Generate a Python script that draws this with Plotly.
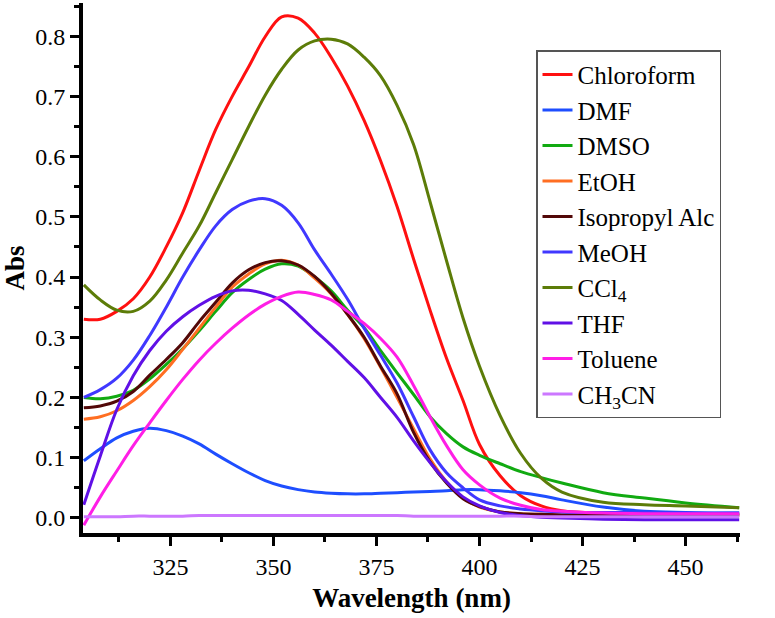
import plotly.graph_objects as go

wavelength = [304, 308, 312, 316, 320, 324, 328, 332, 336, 340, 344, 348, 352, 356, 360,
              364, 368, 372, 376, 380, 384, 388, 392, 396, 400, 405, 410, 415, 420, 430,
              440, 450, 463]

chloroform = [0.330, 0.330, 0.343, 0.364, 0.400, 0.450, 0.507, 0.577, 0.645, 0.700, 0.749,
              0.799, 0.832, 0.830, 0.805, 0.765, 0.717, 0.660, 0.593, 0.517, 0.430, 0.345,
              0.265, 0.195, 0.122, 0.070, 0.037, 0.020, 0.012, 0.008, 0.007, 0.006, 0.005]
dmf = [0.095, 0.115, 0.133, 0.144, 0.149, 0.145, 0.136, 0.123, 0.106, 0.090, 0.075, 0.062,
       0.053, 0.047, 0.043, 0.041, 0.040, 0.040, 0.041, 0.042, 0.043, 0.044, 0.045, 0.047,
       0.047, 0.045, 0.042, 0.037, 0.030, 0.018, 0.011, 0.009, 0.008]
dmso = [0.200, 0.198, 0.202, 0.212, 0.231, 0.255, 0.281, 0.311, 0.343, 0.374, 0.396, 0.413,
        0.422, 0.418, 0.400, 0.377, 0.345, 0.316, 0.278, 0.241, 0.205, 0.168, 0.140, 0.118,
        0.104, 0.090, 0.077, 0.067, 0.058, 0.042, 0.033, 0.025, 0.017]
etoh = [0.164, 0.168, 0.178, 0.195, 0.218, 0.246, 0.280, 0.315, 0.350, 0.383, 0.405, 0.422,
        0.428, 0.420, 0.398, 0.372, 0.338, 0.298, 0.250, 0.200, 0.148, 0.098, 0.060, 0.033,
        0.018, 0.010, 0.007, 0.006, 0.005, 0.005, 0.005, 0.005, 0.005]
isopropyl = [0.183, 0.186, 0.194, 0.210, 0.237, 0.263, 0.291, 0.326, 0.358, 0.390, 0.412,
             0.424, 0.427, 0.420, 0.401, 0.373, 0.338, 0.300, 0.252, 0.206, 0.142, 0.093,
             0.058, 0.032, 0.019, 0.010, 0.007, 0.006, 0.005, 0.005, 0.005, 0.005, 0.005]
meoh = [0.200, 0.213, 0.232, 0.262, 0.303, 0.350, 0.400, 0.445, 0.485, 0.512, 0.526, 0.530,
        0.519, 0.490, 0.445, 0.405, 0.363, 0.315, 0.270, 0.224, 0.168, 0.113, 0.075, 0.050,
        0.030, 0.020, 0.015, 0.012, 0.010, 0.009, 0.009, 0.008, 0.008]
ccl4 = [0.387, 0.362, 0.345, 0.343, 0.360, 0.395, 0.440, 0.485, 0.540, 0.595, 0.650, 0.702,
        0.745, 0.777, 0.792, 0.795, 0.787, 0.765, 0.734, 0.685, 0.620, 0.525, 0.427, 0.332,
        0.252, 0.170, 0.107, 0.066, 0.043, 0.026, 0.022, 0.020, 0.017]
thf = [0.022, 0.103, 0.180, 0.236, 0.278, 0.310, 0.334, 0.353, 0.368, 0.377, 0.378, 0.372,
       0.361, 0.338, 0.312, 0.287, 0.260, 0.233, 0.200, 0.167, 0.128, 0.092, 0.060, 0.035,
       0.020, 0.009, 0.004, 0.001, 0.000, -0.002, -0.003, -0.003, -0.003]
toluene = [-0.012, 0.035, 0.078, 0.120, 0.158, 0.195, 0.230, 0.262, 0.290, 0.315, 0.337,
           0.355, 0.368, 0.375, 0.371, 0.362, 0.343, 0.323, 0.298, 0.267, 0.220, 0.168,
           0.120, 0.080, 0.055, 0.033, 0.021, 0.014, 0.011, 0.008, 0.007, 0.007, 0.007]
ch3cn = [0.002, 0.002, 0.002, 0.003, 0.003, 0.003, 0.003, 0.004, 0.004, 0.004, 0.004, 0.004,
         0.004, 0.004, 0.004, 0.004, 0.004, 0.004, 0.004, 0.004, 0.003, 0.003, 0.003, 0.003,
         0.003, 0.003, 0.003, 0.002, 0.002, 0.002, 0.002, 0.002, 0.002]

series_names = ["Chloroform", "DMF", "DMSO", "EtOH", "Isopropyl Alc", "MeOH",
                "CCl<sub>4</sub>", "THF", "Toluene", "CH<sub>3</sub>CN"]
series_values = [chloroform, dmf, dmso, etoh, isopropyl, meoh, ccl4, thf, toluene, ch3cn]
series_colors = ["#FF1010", "#1E4EFF", "#11AA11", "#FF6E22", "#520808", "#4038FF",
                 "#5C7C08", "#6010E6", "#FF1EE6", "#CC77FF"]

FONT = "Liberation Serif"

fig = go.Figure()
for name, vals, col in zip(series_names, series_values, series_colors):
    fig.add_trace(go.Scatter(
        x=wavelength, y=vals, name=name, mode="lines",
        line=dict(color=col, width=3, shape="spline", smoothing=1.0),
    ))

fig.update_layout(
    width=775, height=618,
    margin=dict(l=83, r=35, t=3, b=85),
    paper_bgcolor="white", plot_bgcolor="white",
    font=dict(family=FONT, color="black", size=24),
    showlegend=True,
    legend=dict(
        x=0.6895, y=0.911, xanchor="left", yanchor="top",
        bgcolor="white", bordercolor="#555555", borderwidth=1.5,
        font=dict(family=FONT, size=25, color="black"),
        tracegroupgap=0,
    ),
)

fig.update_xaxes(
    range=[303.8, 463.2], tickmode="linear", tick0=325, dtick=25,
    showline=True, linecolor="black", linewidth=4, mirror=False,
    ticks="outside", ticklen=9, tickwidth=3, tickcolor="black",
    minor=dict(tickmode="linear", tick0=312.5, dtick=12.5, ticks="outside", ticklen=5, tickwidth=3, tickcolor="black"),
    showgrid=False, zeroline=False, automargin=False,
    tickfont=dict(family=FONT, size=24),
    title=dict(text="Wavelength (nm)", font=dict(family=FONT, size=27, weight="bold"), standoff=10),
)
fig.update_yaxes(
    range=[-0.025, 0.855], tickmode="linear", tick0=0, dtick=0.1, tickformat=".1f",
    showline=True, linecolor="black", linewidth=4, mirror=False,
    ticks="outside", ticklen=9, tickwidth=3, tickcolor="black",
    minor=dict(tickmode="linear", tick0=0.05, dtick=0.1, ticks="outside", ticklen=5, tickwidth=3, tickcolor="black"),
    showgrid=False, zeroline=False, automargin=False,
    tickfont=dict(family=FONT, size=24),
    title=dict(text="Abs", font=dict(family=FONT, size=27, weight="bold"), standoff=12),
)

fig.write_html("out.html", config={"displayModeBar": False},
               post_script="document.body.style.margin='0';")
